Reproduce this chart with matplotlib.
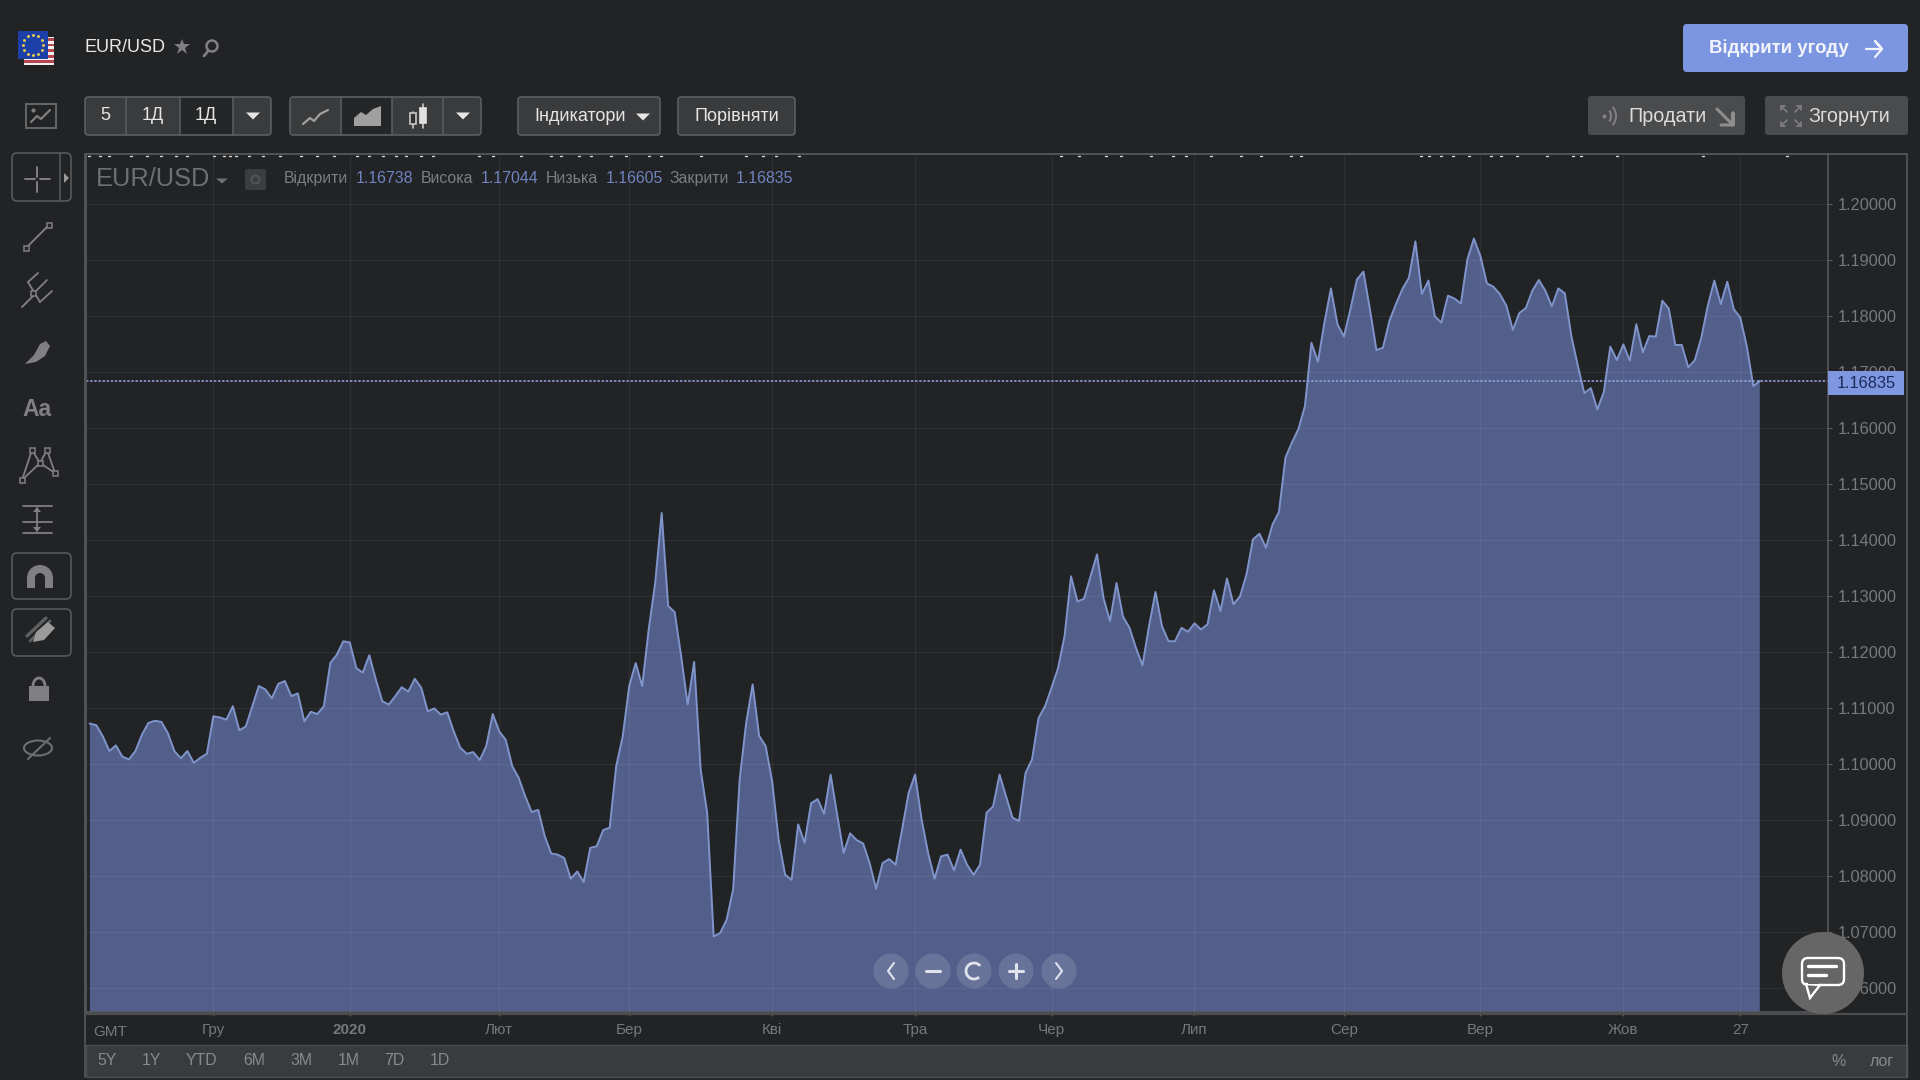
import numpy as np
import matplotlib
matplotlib.use("Agg")
import matplotlib.pyplot as plt
import matplotlib.patches as mpatches

plt.rcParams["font.family"] = ["Liberation Sans", "DejaVu Sans"]

# daily close
close = [
    1.1072, 1.1069, 1.1049, 1.1023, 1.1033, 1.1013, 1.1008, 1.1023, 1.1052, 1.1073,
    1.1077, 1.1075, 1.1055, 1.1023, 1.1010, 1.1023, 1.1002, 1.1011, 1.1018, 1.1085,
    1.1083, 1.1079, 1.1103, 1.1060, 1.1067, 1.1103, 1.1139, 1.1133, 1.1117, 1.1143,
    1.1148, 1.1121, 1.1126, 1.1076, 1.1093, 1.1089, 1.1103, 1.1180, 1.1195, 1.1219,
    1.1217, 1.1171, 1.1163, 1.1194, 1.1151, 1.1112, 1.1106, 1.1121, 1.1137, 1.1129,
    1.1152, 1.1136, 1.1094, 1.1099, 1.1088, 1.1092, 1.1058, 1.1029, 1.1018, 1.1021,
    1.1007, 1.1032, 1.1089, 1.1058, 1.1043, 1.0996, 1.0975, 1.0942, 1.0914, 1.0918,
    1.0871, 1.0840, 1.0838, 1.0832, 1.0795, 1.0808, 1.0789, 1.0850, 1.0853, 1.0882,
    1.0886, 1.0996, 1.1049, 1.1139, 1.1180, 1.1139, 1.1240, 1.1323, 1.1448, 1.1282,
    1.1271, 1.1192, 1.1106, 1.1182, 1.0990, 1.0913, 1.0692, 1.0698, 1.0722, 1.0776,
    1.0972, 1.1073, 1.1142, 1.1050, 1.1032, 1.0969, 1.0865, 1.0802, 1.0793, 1.0892,
    1.0859, 1.0930, 1.0937, 1.0911, 1.0981, 1.0910, 1.0841, 1.0876, 1.0864, 1.0858,
    1.0823, 1.0777, 1.0823, 1.0830, 1.0820, 1.0883, 1.0948, 1.0981, 1.0901, 1.0841,
    1.0795, 1.0835, 1.0838, 1.0810, 1.0847, 1.0820, 1.0802, 1.0820, 1.0913, 1.0924,
    1.0981, 1.0942, 1.0904, 1.0898, 1.0984, 1.1008, 1.1082, 1.1103, 1.1136, 1.1171,
    1.1228, 1.1335, 1.1290, 1.1295, 1.1335, 1.1374, 1.1296, 1.1255, 1.1323, 1.1263,
    1.1243, 1.1207, 1.1176, 1.1246, 1.1307, 1.1246, 1.1219, 1.1219, 1.1243, 1.1236,
    1.1251, 1.1240, 1.1249, 1.1310, 1.1273, 1.1331, 1.1285, 1.1299, 1.1338, 1.1401,
    1.1411, 1.1386, 1.1427, 1.1450, 1.1547, 1.1574, 1.1598, 1.1639, 1.1752, 1.1718,
    1.1788, 1.1849, 1.1785, 1.1763, 1.1812, 1.1865, 1.1879, 1.1812, 1.1739, 1.1743,
    1.1791, 1.1821, 1.1848, 1.1868, 1.1933, 1.1839, 1.1863, 1.1799, 1.1788, 1.1836,
    1.1831, 1.1822, 1.1901, 1.1938, 1.1907, 1.1858, 1.1852, 1.1839, 1.1818, 1.1775,
    1.1805, 1.1814, 1.1845, 1.1864, 1.1845, 1.1817, 1.1849, 1.1840, 1.1764, 1.1711,
    1.1662, 1.1671, 1.1633, 1.1664, 1.1745, 1.1721, 1.1749, 1.1720, 1.1785, 1.1735,
    1.1764, 1.1763, 1.1827, 1.1813, 1.1748, 1.1748, 1.1708, 1.1721, 1.1761, 1.1818,
    1.1863, 1.1821, 1.1861, 1.1812, 1.1797, 1.1746, 1.1675, 1.16835,
]
month_days = [19, 40, 63, 83, 105, 127, 148, 170, 193, 214, 236, 254]
month_labels = ["Гру", "2020", "Лют", "Бер", "Кві", "Тра", "Чер", "Лип", "Сер", "Вер", "Жов", "27"]
price_ticks = [1.06, 1.07, 1.08, 1.09, 1.10, 1.11, 1.12, 1.13, 1.14, 1.15, 1.16, 1.17, 1.18, 1.19, 1.20]
ohlc_names = ["Відкрити", "Висока", "Низька", "Закрити"]
ohlc_values = ["1.16738", "1.17044", "1.16605", "1.16835"]
range_labels = ["5Y", "1Y", "YTD", "6M", "3M", "1M", "7D", "1D"]

BG = "#222325"
AREA = "#525f8a"
LINE = "#8094cc"
GREY = "#77787a"
ICON = "#808082"

W, H = 1920, 1080
fig = plt.figure(figsize=(19.2, 10.8), dpi=100, facecolor=BG)

#%% chart, placed by pixel box
L, R, T, B = 86, 1828, 154, 1012
ax = fig.add_axes([L / W, 1 - B / H, (R - L) / W, (B - T) / H], facecolor=BG)
days = np.arange(len(close))
ax.fill_between(days, 1.0, close, color=AREA, lw=0)
ax.plot(days, close, color=LINE, lw=1.4)
ax.axhline(close[-1], color="#93a6e6", lw=1.1, dashes=(1.6, 1.1))
ax.set_xlim(-0.6, 267.5)
ax.set_ylim(1.0557, 1.2089)
ax.yaxis.tick_right()
ax.set_yticks(price_ticks, [f"{p:.5f}" for p in price_ticks])
ax.set_xticks(month_days, month_labels)
ax.tick_params(axis="y", colors="#5f6062", labelsize=11.8, length=3, pad=4, labelcolor=GREY)
ax.tick_params(axis="x", colors="#5f6062", labelsize=11, length=3, pad=5, labelcolor=GREY)
ax.get_xticklabels()[1].set_fontweight("bold")
ax.grid(True, color="white", alpha=0.055, lw=1)
ax.set_axisbelow(False)
for name, spine in ax.spines.items():
    spine.set_color("#56575a")
    spine.set_linewidth(1.2)
ax.spines["top"].set_visible(False)

#%% interface layer in pixel coordinates
ui = fig.add_axes([0, 0, 1, 1], facecolor="none")
ui.set_xlim(0, W)
ui.set_ylim(H, 0)
ui.axis("off")


def box(x0, y0, x1, y1, fc="none", ec="none", lw=1.0, r=3, z=3):
    p = mpatches.FancyBboxPatch((x0 + r, y0 + r), x1 - x0 - 2 * r, y1 - y0 - 2 * r,
                                boxstyle=f"round,pad={r},rounding_size={r}",
                                fc=fc, ec=ec, lw=lw, zorder=z)
    ui.add_patch(p)


def line(xs, ys, c=ICON, lw=1.4, z=4):
    ui.plot(xs, ys, color=c, lw=lw, zorder=z, solid_capstyle="round")


def txt(x, y, s, size=11, c=GREY, ha="left", weight="normal", z=5):
    # va=center sits a little high against the browser text
    ui.text(x, y + 1.5, s, fontsize=size, color=c, ha=ha, va="center", fontweight=weight, zorder=z)


def caret(x, y, w=7, h=7, c="#e6e6e6"):
    ui.add_patch(mpatches.Polygon([(x - w, y - h / 2), (x + w, y - h / 2), (x, y + h / 2)], fc=c, ec="none", zorder=5))


# frame bits around the chart
line([85, 1907], [154, 154], c="#5a5b5d", lw=1.2)
line([85, 85], [154, 1077], c="#56575a", lw=1.2)
line([1907, 1907], [154, 1077], c="#56575a", lw=1.2)
line([85, 1907], [1014, 1014], c="#4c4d4f", lw=1.6)
for x in [88, 99, 108, 130, 146, 160, 175, 186, 213, 223, 229, 235, 248, 262, 279, 300, 316, 333,
          356, 368, 382, 395, 405, 420, 432, 478, 492, 520, 550, 560, 578, 590, 610, 625, 648, 660,
          700, 745, 762, 775, 798, 1060, 1078, 1105, 1120, 1150, 1172, 1185, 1210, 1240, 1260,
          1290, 1300, 1420, 1428, 1440, 1452, 1468, 1490, 1500, 1516, 1546, 1572, 1580, 1616, 1702, 1786]:
    line([x, x + 1.5], [155.5, 155.5], c="#d8d8d8", lw=1.0)

# flag
ui.add_patch(mpatches.Rectangle((24, 37), 30, 28, fc="#f0f0f0", zorder=3))
for i in range(5):
    ui.add_patch(mpatches.Rectangle((24, 38 + i * 5.6), 30, 2.8, fc="#b5454f", zorder=3))
ui.add_patch(mpatches.Rectangle((18, 31), 30, 28, fc="#1c3fa8", zorder=4))
for a in np.arange(0, 360, 30):
    ui.plot(33 + 10 * np.cos(np.radians(a)), 45 + 10 * np.sin(np.radians(a)), ".", color="#e6cf4a", ms=2.2, zorder=5)

# header
txt(85, 46, "EUR/USD", size=13, c="#e8e8e8")
ui.plot(182, 47, marker="*", color=ICON, ms=12, zorder=5, mew=0)
ui.add_patch(mpatches.Circle((212, 46), 5.5, fc="none", ec=ICON, lw=1.8, zorder=5))
line([208, 204], [51, 56], lw=2)

box(1683, 24, 1908, 72, fc="#7b95e0", r=4)
txt(1779, 47, "Відкрити угоду", size=13.4, c="#f2f4fb", ha="center", weight="bold")
line([1866, 1882, 1875, 1882, 1875], [49, 49, 41, 49, 57], c="#f2f4fb", lw=1.6)

box(1588, 96, 1745, 135, fc="#4a4b4d")
txt(1628, 115, "Продати", size=14.2, c="#dcdcdc")
box(1765, 96, 1908, 135, fc="#4a4b4d")
txt(1808, 115, "Згорнути", size=14.2, c="#dcdcdc")
ui.plot(1604, 116, ".", color=ICON, ms=4, zorder=5)
ui.add_patch(mpatches.Arc((1606, 116), 10, 14, theta1=-60, theta2=60, ec=ICON, lw=1.5, zorder=5))
ui.add_patch(mpatches.Arc((1606, 116), 20, 24, theta1=-55, theta2=55, ec=ICON, lw=1.5, zorder=5))
line([1717, 1733, 1733, 1733, 1721], [109, 125, 113, 125, 125], c="#8d8d8d", lw=2.2)
for sx, sy in [(1, 1), (-1, 1), (1, -1), (-1, -1)]:
    cx, cy = 1791 + sx * 4, 116 + sy * 4
    line([cx, cx + sx * 6], [cy, cy + sy * 6], c=ICON, lw=1.2)
    line([cx + sx * 6, cx + sx * 2], [cy + sy * 6, cy + sy * 6], c=ICON, lw=1.2)
    line([cx + sx * 6, cx + sx * 6], [cy + sy * 6, cy + sy * 2], c=ICON, lw=1.2)

# toolbar groups
box(85, 97, 271, 135, fc="#3a3b3d", ec="#5c5d5f", lw=1.2)
ui.add_patch(mpatches.Rectangle((180, 98), 53, 36, fc="#252628", zorder=3))
for x in [126, 180, 233]:
    line([x, x], [97, 135], c="#5c5d5f", lw=1.1)
txt(105, 114, "5", size=13, c="#e6e6e6", ha="center")
txt(153, 114, "1Д", size=13, c="#e6e6e6", ha="center")
txt(206, 114, "1Д", size=13, c="#e6e6e6", ha="center")
caret(253, 116)

box(290, 97, 481, 135, fc="#3a3b3d", ec="#5c5d5f", lw=1.2)
ui.add_patch(mpatches.Rectangle((341, 98), 51, 36, fc="#252628", zorder=3))
for x in [341, 392, 443]:
    line([x, x], [97, 135], c="#5c5d5f", lw=1.1)
line([303, 310, 314, 320, 328], [124, 118, 121, 114, 110], c="#a0a0a0", lw=1.6)
ui.add_patch(mpatches.Polygon([(354, 126), (354, 118), (361, 112), (366, 115), (373, 109), (381, 106), (381, 126)],
                              fc="#a0a0a0", ec="none", zorder=5))
line([413, 413], [112, 128], c="#c8c8c8", lw=1.2)
line([423, 423], [104, 128], c="#c8c8c8", lw=1.2)
ui.add_patch(mpatches.Rectangle((410, 113), 6, 11, fc="#303133", ec="#c8c8c8", lw=1.2, zorder=5))
ui.add_patch(mpatches.Rectangle((420, 108), 6, 15, fc="#e0e0e0", ec="#e0e0e0", lw=1.2, zorder=5))
caret(463, 116)

box(518, 97, 660, 135, fc="#3a3b3d", ec="#5c5d5f", lw=1.2)
txt(534, 115, "Індикатори", size=13, c="#e6e6e6")
caret(643, 117)
box(678, 97, 795, 135, fc="#3a3b3d", ec="#5c5d5f", lw=1.2)
txt(695, 115, "Порівняти", size=13, c="#e6e6e6")

# ohlc row
txt(96, 177.5, "EUR/USD", size=18.3, c="#6e6f71")
caret(222, 181, w=6, h=5, c="#6e6f71")
box(245, 169, 266, 190, fc="#3c3d3f", r=2)
ui.add_patch(mpatches.Circle((255.5, 179.5), 4, fc="none", ec="#55565a", lw=1.3, zorder=5))
name_x = [284, 421, 546, 670]
value_x = [356, 481, 606, 736]
for nx, vx, n, v in zip(name_x, value_x, ohlc_names, ohlc_values):
    txt(nx, 177, n, size=11.4, c="#7d7e80")
    txt(vx, 177, v, size=11.4, c="#6f83c0")

# last price tag
ui.add_patch(mpatches.Rectangle((1828, 371), 76, 24, fc="#7f97e0", zorder=5))
txt(1866, 382, "1.16835", size=11.8, c="#1d2b5c", ha="center", z=6)

# time axis extras
txt(93, 1030, "GMT", size=11, c=GREY)
ui.add_patch(mpatches.Rectangle((86, 1045), 1821, 32, fc="#3a3b3d", ec="#4c4d4f", lw=1, zorder=3))
range_x = [107, 151, 202, 254, 301, 349, 394, 440]
for x, s in zip(range_x, range_labels):
    txt(x, 1059, s, size=11.4, c="#88898b", ha="center")
txt(1838, 1060, "%", size=11.4, c="#88898b", ha="center")
txt(1882, 1060, "лог", size=11.4, c="#88898b", ha="center")

# zoom buttons
for x in [891, 933, 974, 1016, 1059]:
    ui.add_patch(mpatches.Circle((x, 971), 17.5, fc="white", alpha=0.13, ec="none", zorder=4))
line([894, 888, 894], [963, 971, 979], c="#e0e3ee", lw=1.5, z=5)
line([926, 940], [971, 971], c="#e0e3ee", lw=2.2, z=5)
ui.add_patch(mpatches.Arc((974, 971), 16, 16, theta1=50, theta2=320, ec="#e0e3ee", lw=2, zorder=5))
line([1009, 1023], [971, 971], c="#e0e3ee", lw=2.2, z=5)
line([1016, 1016], [964, 978], c="#e0e3ee", lw=2.2, z=5)
line([1056, 1062, 1056], [963, 971, 979], c="#e0e3ee", lw=1.5, z=5)

# chat bubble
ui.add_patch(mpatches.Circle((1823, 973), 41, fc="#666666", ec="none", zorder=7))
box(1802, 958, 1844, 985, fc="#666666", ec="white", lw=1.7, r=6, z=8)
ui.add_patch(mpatches.Polygon([(1806, 984), (1810, 998), (1820, 985)], fc="#666666", ec="white", lw=1.7, zorder=8))
line([1808, 1836], [966, 966], c="white", lw=2.4, z=9)
line([1808, 1826], [975, 975], c="white", lw=2.4, z=9)
ui.add_patch(mpatches.Rectangle((1808, 981), 11, 3, fc="#666666", zorder=9))

#%% left tool bar
# small chart icon above the bar
ui.add_patch(mpatches.Rectangle((26, 104), 30, 24, fc="none", ec="#636466", lw=1.5, zorder=4))
line([31, 37, 41, 50], [122, 116, 119, 110], c="#7e7e7e", lw=1.6)
ui.plot(33, 110, ".", color="#7e7e7e", ms=4, zorder=5)

box(12, 153, 71, 201, ec="#58595b", lw=1.2, r=5)
line([60, 60], [153, 201], c="#58595b", lw=1.1)
ui.add_patch(mpatches.Polygon([(64, 173), (69, 178), (64, 183)], fc="#9a9a9a", zorder=5))
line([25, 35], [179, 179])
line([40, 50], [179, 179])
line([37, 37], [167, 177])
line([37, 37], [182, 192])

# trend line
line([26, 49], [248, 225])
for x, y in [(26, 248), (49, 225)]:
    ui.add_patch(mpatches.Rectangle((x - 2.5, y - 2.5), 5, 5, fc=BG, ec=ICON, lw=1.1, zorder=5))
# pitchfork
line([22, 34], [307, 295])
line([28, 40], [282, 302], lw=1.3)
line([34, 47], [293, 280], lw=1.3)
line([40, 52], [302, 291], lw=1.3)
line([28, 38], [282, 273], lw=1.3)
ui.add_patch(mpatches.Rectangle((31, 291), 5, 5, fc=BG, ec=ICON, lw=1.1, zorder=5))
# brush
ui.add_patch(mpatches.Polygon([(25, 364), (34, 355), (40, 344), (46, 341), (50, 346), (45, 356), (36, 362)], fc=ICON, zorder=5))
txt(37, 408, "Aa", size=16.5, c=ICON, ha="center", weight="bold")
# polygon tool
line([22, 32, 40, 47, 55], [480, 450, 463, 450, 473], lw=1.3)
line([22, 40, 55], [480, 463, 473], lw=1.3)
for x, y in [(22, 480), (32, 450), (40, 463), (47, 450), (55, 473)]:
    ui.add_patch(mpatches.Rectangle((x - 2.5, y - 2.5), 5, 5, fc=BG, ec=ICON, lw=1.1, zorder=5))
# level lines
for y in [506, 522, 533]:
    line([23, 52], [y, y], lw=1.3)
line([37, 37], [508, 531], lw=1.3)
ui.add_patch(mpatches.Polygon([(33, 512), (41, 512), (37, 507)], fc=ICON, zorder=5))
ui.add_patch(mpatches.Polygon([(33, 527), (41, 527), (37, 532)], fc=ICON, zorder=5))
# magnet
box(12, 553, 71, 599, ec="#58595b", lw=1.2, r=5)
ui.add_patch(mpatches.Wedge((40, 578), 13, 180, 360, width=8, fc=ICON, zorder=5))
ui.add_patch(mpatches.Rectangle((27, 578), 8, 10, fc=ICON, zorder=5))
ui.add_patch(mpatches.Rectangle((45, 578), 8, 10, fc=ICON, zorder=5))
# pencil
box(12, 609, 71, 656, ec="#58595b", lw=1.2, r=5)
ui.add_patch(mpatches.Polygon([(33, 642), (36, 632), (48, 622), (55, 628), (44, 640)], fc="#9a9a9a", zorder=5))
line([27, 46], [636, 618], c="#5f6062", lw=2.4)
line([30, 50], [641, 621], c="#5f6062", lw=2.0)
# lock
ui.add_patch(mpatches.Rectangle((29, 686), 20, 15, fc=ICON, zorder=5))
ui.add_patch(mpatches.Arc((39, 686), 12, 16, theta1=180, theta2=360, ec=ICON, lw=2, zorder=5))
# hidden eye
ui.add_patch(mpatches.Ellipse((38, 748), 28, 15, fc="none", ec="#6d6e70", lw=1.5, zorder=5))
line([28, 50], [759, 738], c="#6d6e70", lw=1.5)

fig.savefig("out.png", dpi=100, facecolor=BG)
